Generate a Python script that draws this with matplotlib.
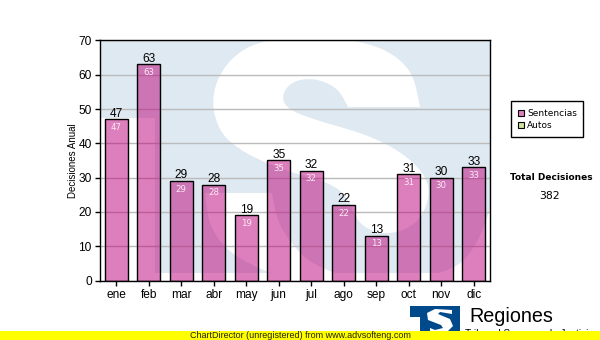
import matplotlib
matplotlib.use("Agg")
import matplotlib.pyplot as plt
from matplotlib.patches import Polygon, Rectangle

plt.rcParams['font.family'] = ['Liberation Sans', 'DejaVu Sans']

meses = ["ene", "feb", "mar", "abr", "may", "jun", "jul", "ago", "sep", "oct", "nov", "dic"]
sentencias = [47, 63, 29, 28, 19, 35, 32, 22, 13, 31, 30, 33]
y_ticks = [0, 10, 20, 30, 40, 50, 60, 70]
total = 382

W, H = 600, 340
BLUE = "#dfe9f2"


# Round off an outline by corner cutting, the corners in keep stay sharp
def smooth(points, keep=(), rounds=3):
    pts = [(p, p in keep) for p in points]
    for _ in range(rounds):
        out = []
        n = len(pts)
        for i in range(n):
            (p, sharp) = pts[i]
            prev = pts[i - 1][0]
            nxt = pts[(i + 1) % n][0]
            if sharp:
                out.append((p, True))
            else:
                out.append(((0.75 * p[0] + 0.25 * prev[0], 0.75 * p[1] + 0.25 * prev[1]), False))
                out.append(((0.75 * p[0] + 0.25 * nxt[0], 0.75 * p[1] + 0.25 * nxt[1]), False))
        pts = out
    return [p for p, _ in pts]


fig = plt.figure(figsize=(W / 100, H / 100), dpi=100)

# Background layer in pixel coordinates (watermark, logo, footer, legend)
bg = fig.add_axes([0, 0, 1, 1], zorder=0)
bg.set_xlim(0, W)
bg.set_ylim(H, 0)
bg.axis("off")

# Watermark: blue block with a white S cut out of it
bg.add_patch(Rectangle((100, 40), 390, 240, fc=BLUE, ec="none"))
bg.add_patch(Rectangle((100, 118), 55, 162, fc="white", ec="none"))
bg.add_patch(Rectangle((155, 273), 335, 7, fc="white", ec="none"))
upper_s = [(420, 107), (413, 72), (388, 50), (350, 39), (295, 37), (252, 43), (224, 65),
           (211, 97), (218, 130), (238, 149), (268, 164), (300, 175), (325, 181), (347, 195),
           (357, 222), (377, 234), (402, 232), (422, 218), (431, 190), (420, 168), (395, 148),
           (362, 133), (322, 122), (288, 110), (281, 96), (292, 81), (315, 78), (338, 88), (348, 107)]
lower_s = [(205, 193), (272, 193), (277, 220), (290, 242), (310, 263), (345, 277), (390, 280),
           (453, 272), (477, 245), (490, 210), (490, 280), (290, 280), (257, 268), (226, 250), (209, 225)]
bg.add_patch(Polygon(smooth(upper_s, keep=[(420, 107), (348, 107)]), closed=True, fc="white", ec="none"))
bg.add_patch(Polygon(smooth(lower_s, keep=[(205, 193), (272, 193), (490, 210), (490, 280), (290, 280)]),
                     closed=True, fc="white", ec="none"))

# Logo and footer
logo = [(410, 306), (460, 306), (460, 332), (420, 332), (420, 317), (410, 317)]
bg.add_patch(Polygon(logo, closed=True, fc="#004a8c", ec="none"))
logo_s = [(452, 310), (435, 309), (427, 313), (428, 320), (441, 325), (443, 328), (435, 330),
          (430, 328), (430, 332), (447, 332), (453, 326), (450, 319), (438, 314), (440, 312), (452, 314)]
bg.add_patch(Polygon(logo_s, closed=True, fc="white", ec="none"))
bg.text(469, 316, "Regiones", fontsize=14.2, color="black", ha="left", va="center")
bg.text(465, 334, "Tribunal Supremo de Justicia", fontsize=7.2, color="black", ha="left", va="center")
bg.add_patch(Rectangle((0, 331), W, 9, fc="#ffff00", ec="none", zorder=5))
bg.text(300, 335.3, "ChartDirector (unregistered) from www.advsofteng.com", fontsize=6.5,
        color="#222200", ha="center", va="center", zorder=6)

# Legend box
bg.add_patch(Rectangle((510.5, 100.5), 72, 36, fc="white", ec="black", lw=1))
bg.add_patch(Rectangle((517.5, 109.5), 6, 6, fc="#de7fbd", ec="black", lw=0.8))
bg.add_patch(Rectangle((517.5, 121.5), 6, 6, fc="#cfe39a", ec="black", lw=0.8))
bg.text(527, 113.5, "Sentencias", fontsize=6.5, family="DejaVu Sans", va="center")
bg.text(527, 125.5, "Autos", fontsize=6.5, family="DejaVu Sans", va="center")

# Total
bg.text(551, 177.5, "Total Decisiones", fontsize=6.5, family="DejaVu Sans", weight="bold", ha="center", va="center")
bg.text(550, 196, str(total), fontsize=7.8, family="DejaVu Sans", ha="center", va="center")

# Main chart
ax = fig.add_axes([100 / W, 1 - 280.5 / H, 390 / W, 240 / H], zorder=1)
ax.patch.set_alpha(0)
x = list(range(len(meses)))
ax.set_axisbelow(True)
ax.grid(axis="y", color="#bbbbbb", lw=1)
bars = ax.bar(x, sentencias, width=0.71, facecolor=(0.74, 0.0, 0.48, 0.5), edgecolor="black", linewidth=1)

for b, v in zip(bars, sentencias):
    cx = b.get_x() + b.get_width() / 2
    ax.annotate(str(v), (cx, v), xytext=(0, -0.3), textcoords="offset points",
                ha="center", va="bottom", fontsize=8.6, color="black")
    ax.annotate(str(v), (cx, v), xytext=(0, -2.5), textcoords="offset points",
                ha="center", va="top", fontsize=6.2, family="DejaVu Sans", color="#fbeaf5")

ax.set_xlim(-0.5, 11.5)
ax.set_ylim(0, 70)
ax.set_xticks(x)
ax.set_xticklabels(meses)
ax.set_yticks(y_ticks)
ax.tick_params(axis="both", labelsize=8.6, length=3.5, width=1, pad=2.5, color="black")
ax.set_ylabel("Decisiones Anual", fontsize=7, labelpad=0)
for s in ax.spines.values():
    s.set_linewidth(1)
    s.set_color("black")

fig.savefig("out.png", dpi=100)
